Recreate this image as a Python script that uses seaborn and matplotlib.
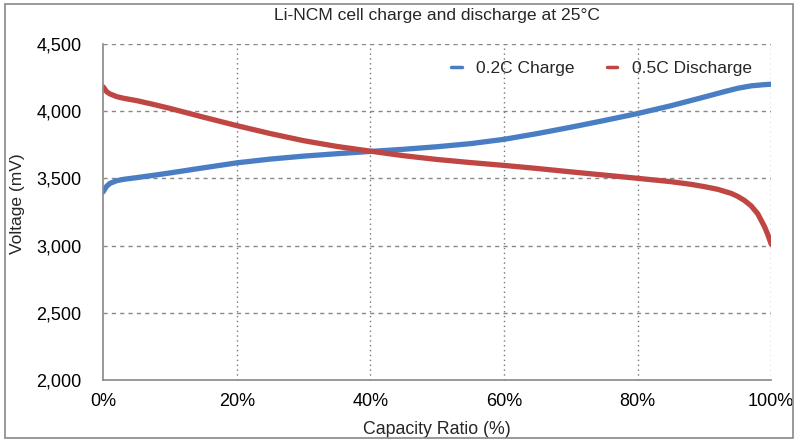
import matplotlib
matplotlib.use("Agg")
import matplotlib.pyplot as plt
import matplotlib.patches as mpatches
from matplotlib.ticker import FuncFormatter, MultipleLocator
import seaborn as sns
import pandas as pd

charge_x = [0, 0.5, 1, 2, 3, 5, 7.5, 10, 15, 20, 25, 30, 35, 40, 45, 50, 55, 60, 65, 70, 75, 80, 85, 90, 93, 95, 97, 99, 100]
charge_v = [3400, 3440, 3462, 3482, 3492, 3505, 3522, 3540, 3578, 3615, 3643, 3665, 3683, 3700, 3716, 3735, 3758, 3790, 3833, 3880, 3930, 3982, 4040, 4105, 4145, 4170, 4188, 4197, 4200]

dis_x = [0, 0.5, 1, 2, 3, 5, 7.5, 10, 15, 20, 25, 30, 35, 40, 45, 50, 55, 60, 65, 70, 75, 80, 85, 88, 90, 92, 94, 95, 96, 97, 98, 99, 99.5, 100]
dis_v = [4180, 4145, 4128, 4108, 4096, 4078, 4050, 4020, 3955, 3892, 3833, 3780, 3737, 3702, 3668, 3640, 3617, 3596, 3573, 3548, 3524, 3500, 3475, 3455, 3438, 3418, 3388, 3365, 3335, 3295, 3235, 3140, 3080, 3010]

series_names = ["0.2C Charge", "0.5C Discharge"]
colors = ["#4A7EC4", "#BF4642"]

df = pd.concat([
    pd.DataFrame({"x": charge_x, "v": charge_v, "s": series_names[0]}),
    pd.DataFrame({"x": dis_x, "v": dis_v, "s": series_names[1]}),
])

sns.set_style("white")
plt.rcParams["font.family"] = ["Liberation Sans", "DejaVu Sans"]

fig = plt.figure(figsize=(8, 4.48), dpi=100)
ax = fig.add_axes([0.129, 0.152, 0.835, 0.75])

sns.lineplot(data=df, x="x", y="v", hue="s", palette=colors, linewidth=3.8,
             ax=ax, legend=False, sort=False, estimator=None)

ax.set_xlim(0, 100)
ax.set_ylim(2000, 4500)
ax.xaxis.set_major_locator(MultipleLocator(20))
ax.yaxis.set_major_locator(MultipleLocator(500))
ax.xaxis.set_major_formatter(FuncFormatter(lambda v, p: f"{int(v)}%"))
ax.yaxis.set_major_formatter(FuncFormatter(lambda v, p: f"{int(v):,}"))

ax.grid(False)
for yv in [2500, 3000, 3500, 4000, 4500]:
    ax.axhline(yv, color="#888888", lw=1.0, ls=(0, (3, 3)), zorder=0)
for xv in [20, 40, 60, 80, 100]:
    ax.axvline(xv, color="#777777", lw=1.0, ls=(0, (1, 2.5)), zorder=0)

for s in ["top", "right"]:
    ax.spines[s].set_visible(False)
for s in ["left", "bottom"]:
    ax.spines[s].set_color("#888888")
    ax.spines[s].set_linewidth(1.2)

ax.tick_params(axis="both", direction="inout", length=7, color="#888888", width=1, labelsize=13, labelcolor="black")
ax.tick_params(axis="x", pad=6)
ax.tick_params(axis="y", pad=12)

ax.set_xlabel("Capacity Ratio (%)", fontsize=12.8, labelpad=8)
ax.set_ylabel("Voltage (mV)", fontsize=12.5)
ax.yaxis.set_label_coords(-0.117, 0.525)
ax.set_title("Li-NCM cell charge and discharge at 25°C", fontsize=12.6, pad=17)

handles = [plt.Line2D([], [], color=c, lw=2.5) for c in colors]
ax.legend(handles, series_names, loc="upper right", bbox_to_anchor=(0.995, 0.995), ncol=2,
          frameon=False, fontsize=12.5, handlelength=0.6, columnspacing=1.85, handletextpad=0.85)

fig.patches.append(mpatches.Rectangle((0.006, 0.022), 0.985, 0.969, transform=fig.transFigure,
                                      fill=False, edgecolor="#888888", lw=1.2))

fig.savefig("out.png", dpi=100)
